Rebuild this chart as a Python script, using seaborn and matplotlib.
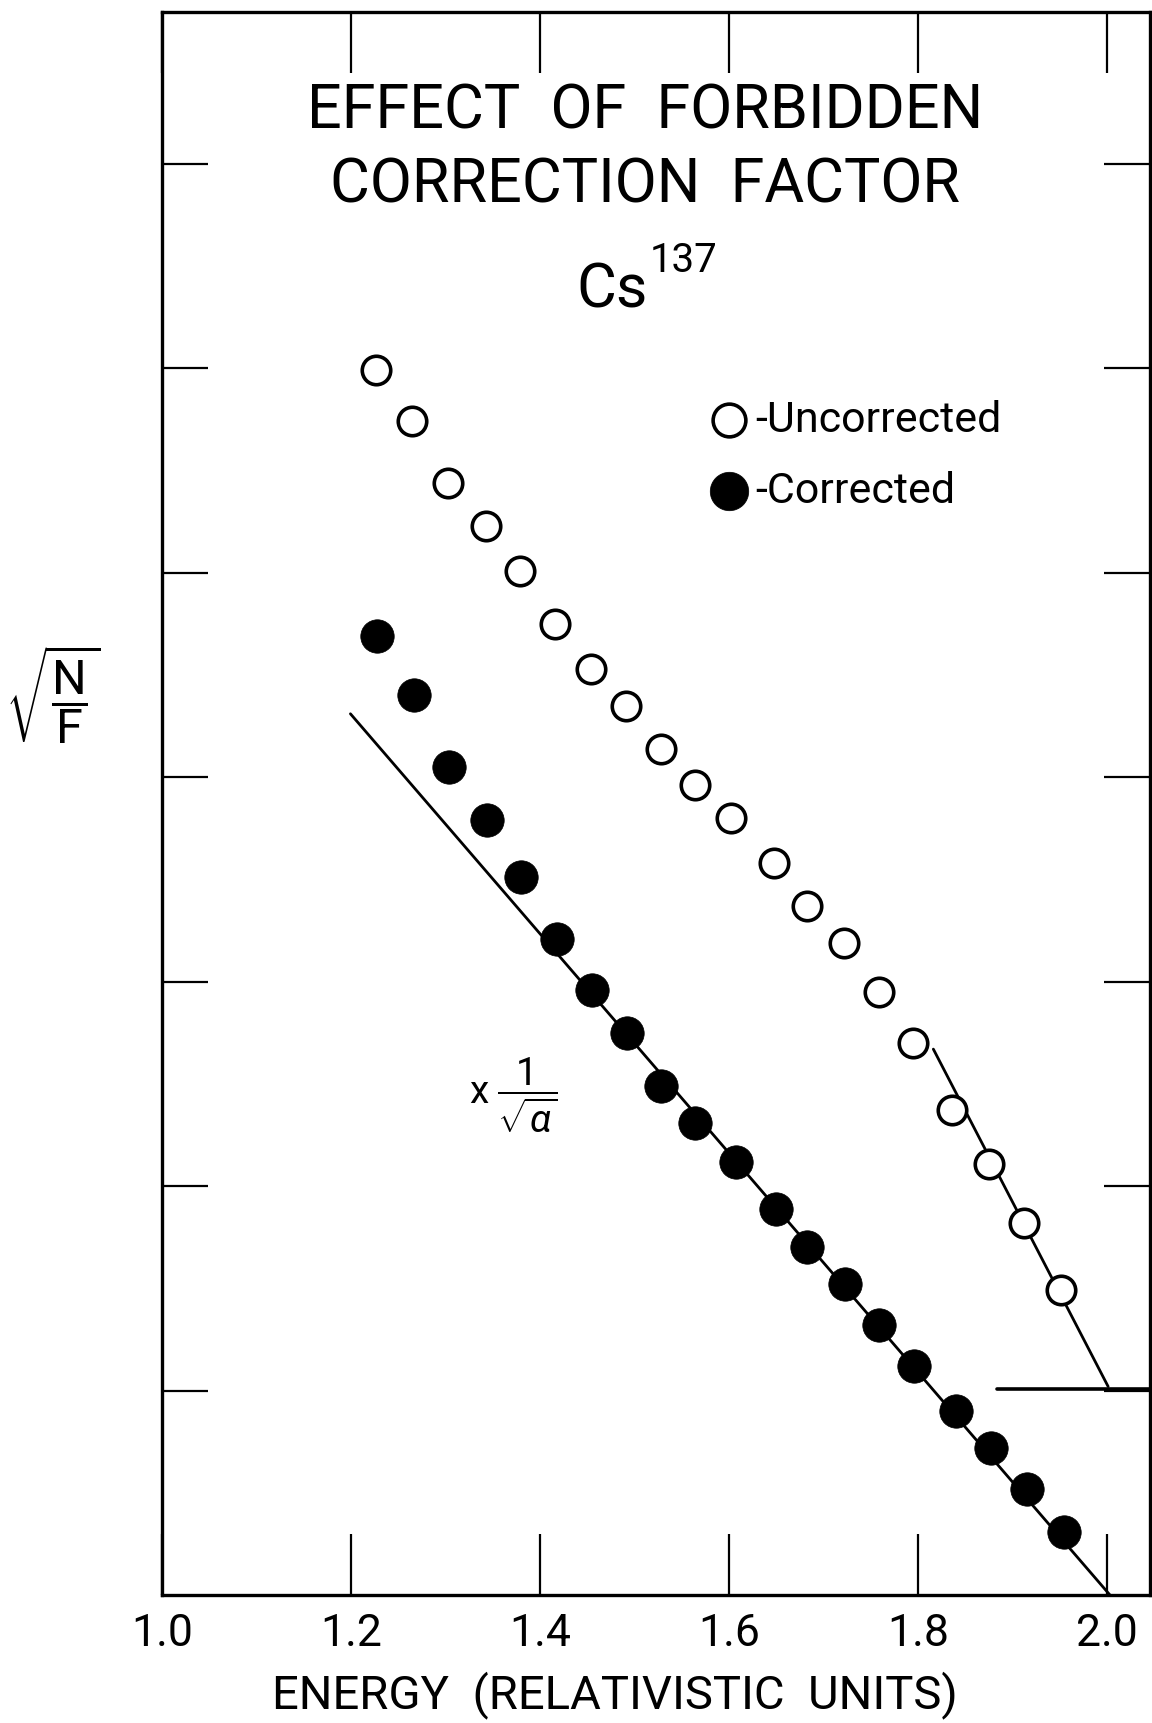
import matplotlib
matplotlib.use("Agg")
import matplotlib.pyplot as plt
import seaborn as sns
import numpy as np
import pandas as pd
from matplotlib import font_manager

# ---------------- data ----------------
energy_uncorr = [1.226, 1.264, 1.302, 1.343, 1.379, 1.415, 1.454, 1.491, 1.528, 1.564,
                 1.602, 1.647, 1.682, 1.721, 1.758, 1.794, 1.836, 1.875, 1.912, 1.951]
sqrt_nf_uncorr = [5.99, 5.74, 5.44, 5.23, 5.01, 4.75, 4.53, 4.35, 4.14, 3.96,
                  3.80, 3.58, 3.37, 3.19, 2.95, 2.70, 2.37, 2.11, 1.82, 1.49]

energy_corr = [1.227, 1.266, 1.303, 1.344, 1.380, 1.418, 1.455, 1.492, 1.528, 1.564,
               1.607, 1.649, 1.682, 1.722, 1.759, 1.795, 1.840, 1.877, 1.915, 1.954]
sqrt_nf_corr = [4.69, 4.40, 4.05, 3.79, 3.51, 3.21, 2.96, 2.75, 2.49, 2.31,
                2.12, 1.89, 1.70, 1.52, 1.32, 1.12, 0.90, 0.72, 0.52, 0.31]

fit_corr_x = [1.199, 2.003]
fit_corr_y = [4.31, 0.0]
fit_uncorr_x = [1.816, 2.001]
fit_uncorr_y = [2.67, 1.02]
baseline_x = [1.883, 2.05]
baseline_y = [1.01, 1.01]

x_ticks = [1.0, 1.2, 1.4, 1.6, 1.8, 2.0]
x_tick_labels = ["1.0", "1.2", "1.4", "1.6", "1.8", "2.0"]
y_ticks = [1, 2, 3, 4, 5, 6, 7]

# ---------------- style ----------------
sns.set_theme(style="white")
available = {f.name for f in font_manager.fontManager.ttflist}
main_font = "Roboto" if "Roboto" in available else "DejaVu Sans"
plt.rcParams["font.family"] = [main_font, "DejaVu Sans"]
plt.rcParams["mathtext.fontset"] = "custom"
plt.rcParams["mathtext.rm"] = main_font
plt.rcParams["mathtext.it"] = main_font + ":italic"
plt.rcParams["mathtext.sf"] = main_font
plt.rcParams["text.color"] = "black"

fig = plt.figure(figsize=(11.52, 17.24), dpi=100)
ax = fig.add_axes([0.141, 0.0742, 0.857, 0.918])

df_u = pd.DataFrame({"E": energy_uncorr, "S": sqrt_nf_uncorr})
df_c = pd.DataFrame({"E": energy_corr, "S": sqrt_nf_corr})
df_fc = pd.DataFrame({"E": fit_corr_x, "S": fit_corr_y})
df_fu = pd.DataFrame({"E": fit_uncorr_x, "S": fit_uncorr_y})
df_b = pd.DataFrame({"E": baseline_x, "S": baseline_y})

sns.lineplot(data=df_fc, x="E", y="S", ax=ax, color="black", lw=2.0, legend=False)
sns.lineplot(data=df_fu, x="E", y="S", ax=ax, color="black", lw=2.0, legend=False)
sns.lineplot(data=df_b, x="E", y="S", ax=ax, color="black", lw=2.6, legend=False,
             clip_on=False)

sns.scatterplot(data=df_u, x="E", y="S", ax=ax, marker="o", s=420,
                facecolor="white", edgecolor="black", linewidth=2.6,
                label="-Uncorrected", zorder=5)
sns.scatterplot(data=df_c, x="E", y="S", ax=ax, marker="o", s=580,
                color="black", edgecolor="black", linewidth=0.5,
                label="-Corrected", zorder=5)

ax.set_xlim(1.0, 2.045)
ax.set_ylim(0.0, 7.74)

ax.set_xticks(x_ticks)
ax.set_xticklabels(x_tick_labels, fontsize=32)
ax.set_yticks(y_ticks)
ax.set_yticklabels([])
ax.tick_params(axis="x", direction="in", length=44, width=1.6, top=True,
               bottom=True, pad=12, colors="black")
ax.tick_params(axis="y", direction="in", length=33, width=1.6, left=True,
               right=True, colors="black")
for sp in ax.spines.values():
    sp.set_visible(True)
    sp.set_color("black")
    sp.set_linewidth(2.4)

ax.set_xlabel("ENERGY  (RELATIVISTIC  UNITS)", fontsize=34, color="black")
ax.xaxis.label.set_va("center")
ax.xaxis.set_label_coords(0.458, -0.0625)
ax.set_ylabel("")
fig.text(0.046, 0.597, r"$\sqrt{\dfrac{\mathrm{N}}{\mathrm{F}}}$", fontsize=35,
         ha="center", va="center")

# title block
ax.text(1.511, 7.26, "EFFECT  OF  FORBIDDEN", fontsize=44, ha="center", va="center")
ax.text(1.511, 6.90, "CORRECTION  FACTOR", fontsize=44, ha="center", va="center")
ax.text(1.476, 6.385, "Cs", fontsize=44, ha="center", va="center")
ax.text(1.552, 6.53, "137", fontsize=29, ha="center", va="center")

# annotation
ax.text(1.372, 2.45, r"x $\dfrac{1}{\sqrt{\alpha}}$", fontsize=28,
        ha="center", va="center")

leg = ax.legend(loc="center left", bbox_to_anchor=(1.577, 5.575),
                bbox_transform=ax.transData, frameon=False, fontsize=31,
                handletextpad=0.1, handlelength=1.0, labelspacing=0.7,
                borderpad=0.0, borderaxespad=0.0, scatterpoints=1,
                markerscale=1.15)

fig.savefig("out.png", dpi=100, facecolor="white")
